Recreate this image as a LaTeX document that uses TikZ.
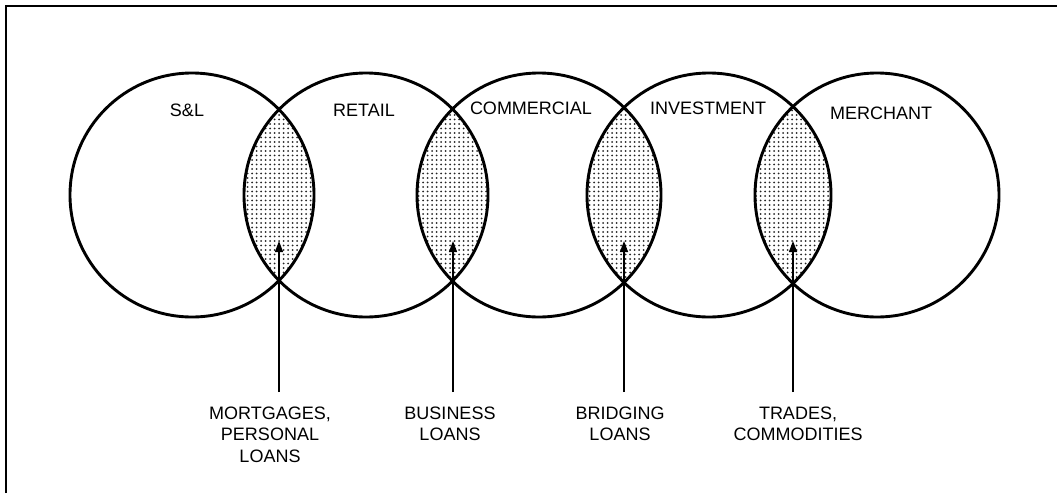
\documentclass[tikz,border=0pt]{standalone}
\usepackage{fontspec}
\setmainfont{Liberation Sans}
\usetikzlibrary{arrows.meta,patterns.meta}

\begin{document}
\begin{tikzpicture}[x=1pt,y=-1pt]
    \tikzstyle{bank} = [circle, draw, line width=2.9pt, minimum size=244pt, inner sep=0pt]
    \tikzstyle{kind} = [font=\fontsize{18}{21.5}\selectfont, inner sep=0pt]
    \tikzstyle{loan} = [font=\fontsize{18}{21.5}\selectfont, align=center, anchor=north, inner sep=0pt]
    \tikzstyle{lens} = [pattern={Dots[distance=4.5pt,radius=1pt]}, pattern color=black!85]
    \useasboundingbox (0,0) rectangle (1057,493);
    \draw[line width=2pt] (5.5,493) -- (5.5,5.5) -- (1057,5.5);
    % shaded overlaps
    \foreach \a/\b in {192/366, 366/539, 539/709, 709/877} {
        \begin{scope}
            \clip (\a,195) circle (122pt);
            \fill[lens] (\b,195) circle (122pt);
        \end{scope}
    }
    \node[bank] (sl) at (192,195) {};
    \node[bank] (retail) at (366,195) {};
    \node[bank] (comm) at (539,195) {};
    \node[bank] (invest) at (709,195) {};
    \node[bank] (merch) at (877,195) {};
    \node[kind] (slname) at (187,110) {S\&L};
    \node[kind] (retailname) at (364,110) {RETAIL};
    \node[kind] (commname) at (531,108) {COMMERCIAL};
    \node[kind] (investname) at (708,108) {INVESTMENT};
    \node[kind] (merchname) at (881,113) {MERCHANT};
    % what each overlap lends
    \node[loan] (mort) at (270,406.5) {MORTGAGES,\\PERSONAL\\LOANS};
    \node[loan] (bus) at (450,406.5) {BUSINESS\\LOANS};
    \node[loan] (bridge) at (620,406.5) {BRIDGING\\LOANS};
    \node[loan] (trade) at (798,406.5) {TRADES,\\COMMODITIES};
    \foreach \n/\x in {1/279, 2/453, 3/624, 4/793} {
        \coordinate (foot\n) at (\x,392);
        \coordinate (tip\n) at (\x,241);
        \draw[line width=1.3pt, -{Triangle[length=11pt,width=8pt]}] (foot\n) -- (tip\n);
    }
\end{tikzpicture}
\end{document}
